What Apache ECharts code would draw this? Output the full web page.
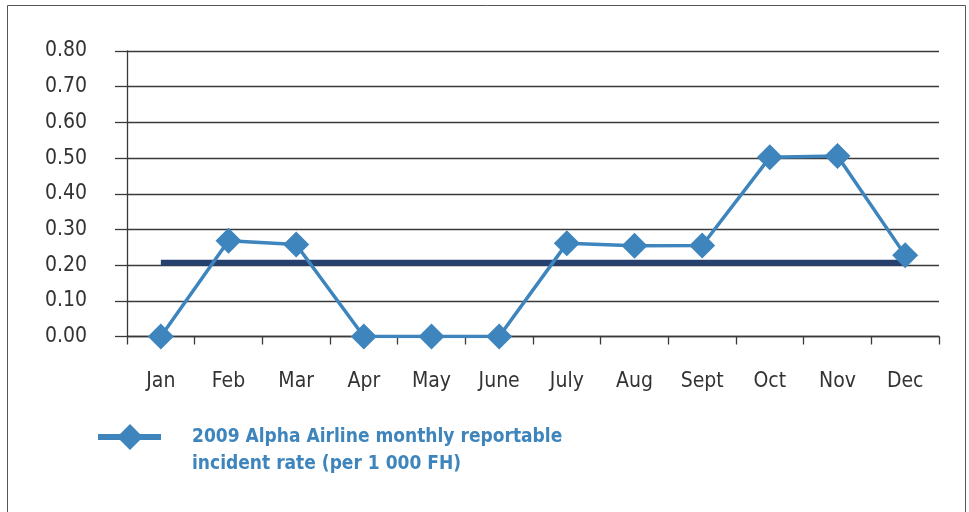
<!DOCTYPE html>
<html>
<head>
<meta charset="utf-8">
<script src="https://cdn.jsdelivr.net/npm/echarts@6/dist/echarts.min.js"></script>
<style>
html,body{margin:0;padding:0;background:#fff;}
#chart{width:969px;height:512px;}
</style>
</head>
<body>
<div id="chart"></div>
<script>
var months = ['Jan','Feb','Mar','Apr','May','June','July','Aug','Sept','Oct','Nov','Dec'];
var incidentRate = [0.00, 0.268, 0.258, 0.00, 0.00, 0.00, 0.261, 0.254, 0.255, 0.502, 0.506, 0.228];
var targetRate = [0.207, 0.207, 0.207, 0.207, 0.207, 0.207, 0.207, 0.207, 0.207, 0.207, 0.207, 0.207];
var seriesName = '2009 Alpha Airline monthly reportable incident rate (per 1 000 FH)';
var legendLines = ['2009 Alpha Airline monthly reportable', 'incident rate (per 1 000 FH)'];

var FONT = "'Liberation Sans Narrow', 'DejaVu Sans Condensed', sans-serif";
var chart = echarts.init(document.getElementById('chart'), null, {renderer: 'canvas'});
chart.setOption({
  animation: false,
  backgroundColor: '#fff',
  graphic: [{
    type: 'rect',
    shape: {x: 7.5, y: 5.5, width: 958, height: 530},
    style: {fill: 'none', stroke: '#555', lineWidth: 1},
    silent: true
  }],
  grid: {left: 127, right: 30, top: 51, bottom: 175.5, containLabel: false},
  xAxis: {
    type: 'category',
    data: months,
    boundaryGap: true,
    axisLine: {lineStyle: {color: '#3a3a3a', width: 1.3}},
    axisTick: {show: true, length: 8, lineStyle: {color: '#3a3a3a', width: 1.3}},
    axisLabel: {margin: 35, color: '#333', fontSize: 21, fontFamily: FONT, interval: 0},
    splitLine: {show: false}
  },
  yAxis: {
    type: 'value',
    min: 0, max: 0.8, interval: 0.1,
    axisLine: {show: true, lineStyle: {color: '#3a3a3a', width: 1.3}},
    axisTick: {show: true, length: 12, lineStyle: {color: '#3a3a3a', width: 1.3}},
    axisLabel: {margin: 40, color: '#333', fontSize: 21, fontFamily: FONT,
      formatter: function (v) { return v.toFixed(2); }},
    splitLine: {show: true, lineStyle: {color: '#3a3a3a', width: 1.3}}
  },
  legend: {
    data: [{name: seriesName,
      icon: 'path://M0,10L63,10L63,16L0,16Z M32,0L45,13L32,26L19,13Z M0,54L0.01,54L0,53.99Z M63,54L62.99,54L63,53.99Z'}],
    left: 93, top: 419,
    itemWidth: 63, itemHeight: 54,
    formatter: function () { return legendLines.join('\n'); },
    textStyle: {color: '#3d85bc', fontSize: 19, fontWeight: 'bold', fontFamily: FONT,
      lineHeight: 27, padding: [0, 0, 0, 26]}
  },
  series: [{
    name: 'target',
    type: 'line',
    data: targetRate,
    symbol: 'none',
    lineStyle: {color: '#27416e', width: 6},
    itemStyle: {color: '#27416e'},
    silent: true,
    z: 2
  }, {
    name: seriesName,
    type: 'line',
    data: incidentRate,
    symbol: 'diamond',
    symbolSize: 26,
    lineStyle: {color: '#3d85bc', width: 3.5},
    itemStyle: {color: '#3d85bc'},
    z: 3
  }]
});
</script>
</body>
</html>
